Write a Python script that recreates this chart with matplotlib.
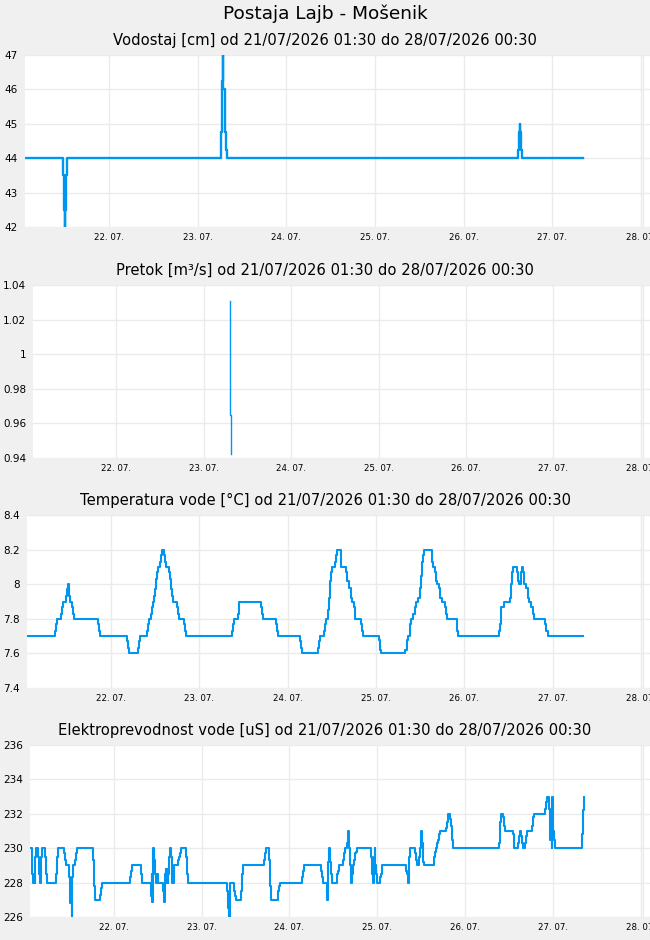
import matplotlib
matplotlib.use("Agg")
import matplotlib.pyplot as plt

# ---------------- data (hours since 21.07.2026 00:00) ----------------
day_ticks = [24, 48, 72, 96, 120, 144, 168]
day_labels = ["22. 07.", "23. 07.", "24. 07.", "25. 07.", "26. 07.", "27. 07.", "28. 07."]
period_end = 168.5  # 28/07/2026 00:30

# Vodostaj [cm]
level_t = [1.5, 11.36, 11.63, 11.9, 12.0, 12.2, 12.5,
           54.3, 54.66, 54.76, 54.93, 55.30, 55.57, 55.84,
           134.75, 135.02, 135.2, 135.34, 135.67, 135.94, 152.25]
level_v = [44, 43.5, 42.5, 41.8, 42.5, 43.5, 44,
           44.75, 46.25, 47.3, 46.0, 44.75, 44.25, 44,
           44.25, 44.75, 45.0, 44.75, 44.25, 44, 44]

# Pretok [m3/s]
flow_t = [55.10, 55.14, 55.26, 55.50, 55.53]
flow_v = [1.031, 1.009, 0.965, 0.9425, 0.9425]

# Temperatura vode [C]
temp_t = [1.5, 8.69, 9.05, 9.32, 10.41, 10.68, 10.95, 11.77, 12.04, 12.31, 12.49, 12.67,
          12.85, 13.40, 13.67, 13.94, 20.47, 20.74, 21.01, 28.35, 28.62, 28.89, 31.34,
          31.61, 31.88, 33.79, 34.06, 34.33, 34.97, 35.15, 35.42, 35.69, 35.87, 36.14,
          36.41, 36.69, 37.32, 37.59, 37.86, 38.41, 38.68, 38.95, 39.77, 40.04, 40.31,
          40.58, 40.86, 41.94, 42.21, 42.49, 43.85, 44.12, 44.39, 56.9, 57.17, 57.44,
          58.53, 58.71, 58.89, 64.78, 65.05, 65.32, 68.86, 69.13, 69.40, 75.47, 75.74,
          76.02, 80.28, 80.55, 80.82, 81.82, 82.10, 82.37, 83.0, 83.28, 83.55, 83.82,
          84.09, 84.91, 85.27, 85.45, 86.63, 87.99, 88.26, 88.62, 89.35, 89.62, 89.98,
          90.35, 91.89, 92.25, 92.61, 96.87, 97.14, 97.51, 104.03, 104.39, 104.76,
          105.39, 105.66, 106.02, 106.57, 106.93, 107.47, 107.93, 108.20, 108.47, 108.74,
          109.01, 111.28, 111.64, 112.0, 112.37, 112.73, 113.09, 113.55, 113.91, 114.72,
          115.09, 115.45, 117.99, 118.26, 129.40, 129.77, 130.13, 130.85, 132.49, 132.85,
          133.12, 133.39, 134.39, 134.66, 134.93, 135.48, 135.84, 136.11, 136.38, 136.83,
          137.38, 137.74, 138.28, 138.65, 139.01, 141.91, 142.27, 142.64, 152.33]
temp_v = [7.7, 7.73, 7.77, 7.8, 7.83, 7.87, 7.9, 7.93, 7.97, 8.0, 7.97, 7.93,
          7.9, 7.87, 7.83, 7.8, 7.77, 7.73, 7.7, 7.67, 7.63, 7.6, 7.63,
          7.67, 7.7, 7.73, 7.77, 7.8, 7.83, 7.87, 7.9, 7.93, 7.97, 8.03,
          8.07, 8.1, 8.13, 8.17, 8.2, 8.17, 8.13, 8.1, 8.07, 8.03, 7.97,
          7.93, 7.9, 7.87, 7.83, 7.8, 7.77, 7.73, 7.7, 7.73, 7.77, 7.8,
          7.83, 7.87, 7.9, 7.87, 7.83, 7.8, 7.77, 7.73, 7.7, 7.67, 7.63,
          7.6, 7.63, 7.67, 7.7, 7.73, 7.77, 7.8, 7.85, 7.92, 8.02, 8.07,
          8.1, 8.13, 8.17, 8.2, 8.1, 8.07, 8.02, 7.98, 7.92, 7.9, 7.87,
          7.8, 7.77, 7.73, 7.7, 7.68, 7.62, 7.6, 7.62, 7.68, 7.7,
          7.77, 7.8, 7.83, 7.87, 7.9, 7.92, 7.98, 8.05, 8.13, 8.17,
          8.2, 8.13, 8.1, 8.07, 8.02, 8.0, 7.98, 7.92, 7.9, 7.87,
          7.83, 7.8, 7.73, 7.7, 7.73, 7.77, 7.87, 7.9, 7.92, 8.0,
          8.07, 8.1, 8.07, 8.02, 8.0, 8.07, 8.1, 8.07, 8.0, 7.98,
          7.92, 7.9, 7.87, 7.83, 7.8, 7.77, 7.73, 7.7, 7.7]

# Elektroprevodnost vode [uS]
cond_t = [1.5, 1.59, 1.77, 2.04, 2.22, 2.40, 2.59, 2.77, 3.41, 3.68, 3.86, 4.04, 4.23, 4.50,
          5.32, 5.59, 5.87, 8.33, 8.51, 8.87, 10.51, 10.69, 10.97, 11.88, 12.15, 12.51,
          12.70, 12.97, 13.42, 13.70, 14.06, 18.43, 18.71, 18.98, 20.26, 20.53, 20.80,
          28.54, 28.82, 29.09, 31.55, 31.82, 34.10, 34.28, 34.46, 34.55, 34.73, 35.01,
          35.19, 35.37, 35.55, 35.74, 36.01, 37.38, 37.65, 37.83, 38.01, 38.20, 38.38,
          38.56, 38.74, 38.92, 39.11, 39.38, 39.65, 39.93, 40.38, 40.56, 41.57, 41.93,
          42.20, 42.48, 43.84, 44.12, 44.39, 55.04, 55.32, 55.50, 55.68, 55.86, 56.96,
          57.23, 57.41, 58.87, 59.14, 59.41, 64.97, 65.24, 65.52, 66.52, 66.79, 67.07,
          68.98, 69.25, 69.52, 75.54, 75.81, 76.08, 80.54, 80.82, 81.09,
          82.20, 82.38, 82.56, 82.92, 83.11, 83.38, 83.74, 84.93, 85.20, 85.47, 86.57,
          86.84, 87.11, 87.75, 88.11, 88.39, 88.57, 88.75, 88.93, 89.12, 89.39, 89.75,
          90.03, 90.30, 90.57, 94.40, 94.67, 94.95, 95.13, 95.31, 95.49, 95.67, 95.95,
          96.86, 97.04, 97.31, 103.96, 104.23, 104.42, 104.60, 104.78, 105.05, 106.33,
          106.60, 106.88, 107.51, 107.70, 107.88, 108.06, 108.24, 108.42, 108.61, 108.88,
          111.61, 111.88, 112.07, 112.34, 112.61, 112.79, 113.07, 114.89, 115.16, 115.44,
          115.98, 116.26, 116.44, 116.62, 129.37, 129.64, 129.83, 130.46, 130.74, 131.01,
          133.01, 133.29, 133.47, 134.38, 134.65, 134.92, 135.20, 135.47, 135.74, 136.38,
          136.66, 136.93, 138.39, 138.66, 138.93, 141.85, 142.21, 142.48, 143.03, 143.21,
          143.39, 143.67, 143.85, 144.03, 144.21, 144.49, 152.05, 152.32, 152.59]
cond_v = [230, 229.5, 228.5, 228, 228.5, 228, 229.5, 230, 229.5, 228.5, 228, 228.5, 229.5, 230,
          229.5, 228.5, 228, 228.5, 229.5, 230, 229.7, 229.3, 229, 228.3, 226.8, 225.8,
          228.3, 229, 229.3, 229.7, 230, 229.3, 227.8, 227, 227.3, 227.7, 228,
          228.3, 228.7, 229, 228.5, 228, 227.8, 227.2, 228.5, 226.9, 230, 229.3,
          228.8, 228.5, 228, 228.5, 228, 227.5, 227.3, 226.9, 228.5, 228.8, 228,
          228.8, 228, 228.5, 229.5, 230, 229.5, 228, 228.5, 229, 229.3, 229.5,
          229.7, 230, 229.5, 228.5, 228, 227.5, 226.5, 225.8, 227, 228, 227.5,
          227.2, 227, 227.5, 228.5, 229, 229.3, 229.7, 230, 229.3, 227.8, 227,
          227.5, 227.8, 228, 228.3, 228.7, 229, 228.7, 228.3, 228,
          227.5, 227, 229.2, 230, 229.2, 228.5, 228, 228.5, 228.7, 229, 229.3,
          229.7, 230, 230.3, 231, 230, 229, 228.5, 228, 228.5, 229, 229.3,
          229.7, 229.8, 230, 229.5, 228.5, 228, 229.5, 230, 229, 228.5, 228,
          228.3, 228.5, 229, 228.7, 228.5, 228, 228.5, 229.5, 230, 229.7,
          229.3, 229, 229.5, 230, 230.5, 231, 230.3, 229.5, 229.2, 229,
          229.5, 229.8, 230, 230.3, 230.5, 230.8, 231, 231.2, 231.5, 232,
          231.7, 231.3, 230.5, 230, 230.3, 231.5, 232, 231.8, 231.3, 231,
          230.8, 230.3, 230, 230.3, 230.7, 231, 230.7, 230.3, 230, 230.3,
          230.7, 231, 231.3, 231.8, 232, 232.3, 232.7, 233, 232.3, 230.5,
          231.5, 230, 233, 231, 230.5, 230, 230.8, 232.2, 233]

panels = [
    ("Vodostaj [cm] od 21/07/2026 01:30 do 28/07/2026 00:30", level_t, level_v,
     [42, 43, 44, 45, 46, 47], ["42", "43", "44", "45", "46", "47"], 1.7),
    ("Pretok [m³/s] od 21/07/2026 01:30 do 28/07/2026 00:30", flow_t, flow_v,
     [0.94, 0.96, 0.98, 1.0, 1.02, 1.04], ["0.94", "0.96", "0.98", "1", "1.02", "1.04"], 1.0),
    ("Temperatura vode [°C] od 21/07/2026 01:30 do 28/07/2026 00:30", temp_t, temp_v,
     [7.4, 7.6, 7.8, 8.0, 8.2, 8.4], ["7.4", "7.6", "7.8", "8", "8.2", "8.4"], 1.5),
    ("Elektroprevodnost vode [uS] od 21/07/2026 01:30 do 28/07/2026 00:30", cond_t, cond_v,
     [226, 228, 230, 232, 234, 236], ["226", "228", "230", "232", "234", "236"], 1.5),
]

# ---------------- layout ----------------
W, H = 650, 940
boxes = [(25, 55, 227), (33, 285, 458), (27, 515, 688), (30, 745, 917)]  # left, top, bottom px
title_y = [40, 270, 500, 730]

BG = "#f0f0f0"
GRID = "#ebebeb"
LINE = "#0096f0"

plt.rcParams["font.family"] = ["DejaVu Sans"]
fig = plt.figure(figsize=(W / 100, H / 100), dpi=100, facecolor=BG)
fig.text(0.5, 1 - 14 / H, "Postaja Lajb - Mošenik", ha="center", va="center", fontsize=13.3)

for (title, t, v, yt, ytl, lw), (l, top, bot), ty in zip(panels, boxes, title_y):
    ax = fig.add_axes([l / W, 1 - bot / H, 1 - l / W, (bot - top) / H])
    ax.set_facecolor("white")
    for s in ax.spines.values():
        s.set_visible(False)
    ax.plot(t, v, drawstyle="steps-post", color=LINE, lw=lw, zorder=3)
    ax.set_xlim(1.15, 170.5)
    ax.set_ylim(yt[0], yt[-1])
    ax.set_yticks(yt)
    ax.set_yticklabels(ytl)
    ax.set_xticks(day_ticks)
    ax.set_xticklabels(day_labels)
    ax.grid(True, color=GRID, lw=1, zorder=0)
    ax.axvline(period_end, color=GRID, lw=1, zorder=0)
    ax.tick_params(axis="both", length=0, colors="black")
    ax.tick_params(axis="y", labelsize=7.5, pad=5)
    ax.tick_params(axis="x", labelsize=6.2, pad=4)
    ax.set_axisbelow(True)
    fig.text(0.5, 1 - ty / H, title, ha="center", va="center", fontsize=10.6)

fig.savefig("out.png", dpi=100, facecolor=BG)
